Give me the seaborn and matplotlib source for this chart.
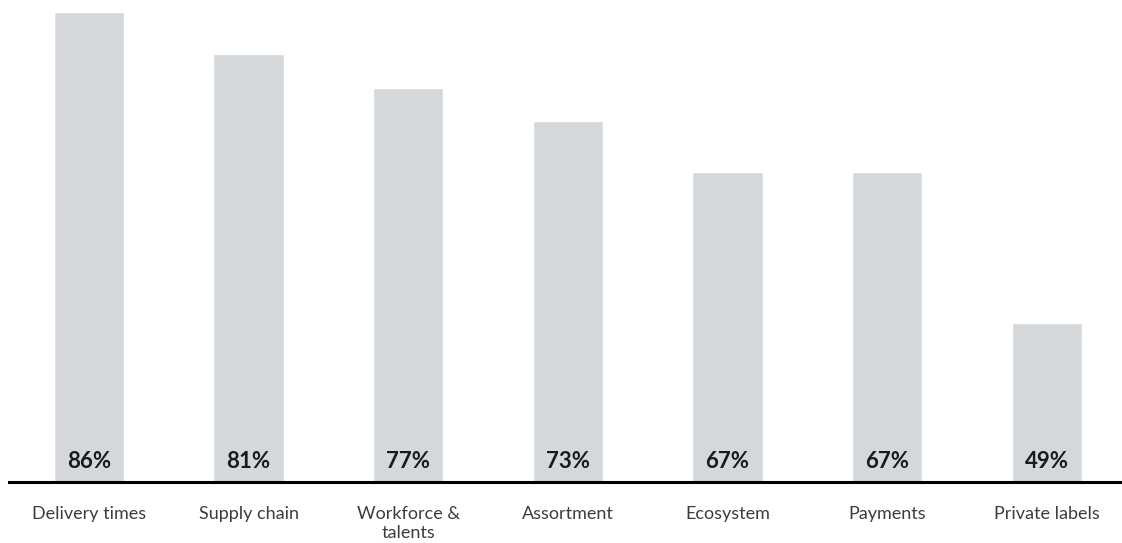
import matplotlib
matplotlib.use("Agg")
import matplotlib.pyplot as plt
import seaborn as sns
import pandas as pd

categories = ["Delivery times", "Supply chain", "Workforce &\ntalents", "Assortment",
              "Ecosystem", "Payments", "Private labels"]
values = [86, 81, 77, 73, 67, 67, 49]
labels = ["86%", "81%", "77%", "73%", "67%", "67%", "49%"]

sns.set_theme(style="white")
plt.rcParams["font.family"] = ["Lato", "DejaVu Sans"]

df = pd.DataFrame({"category": categories, "value": values})

fig = plt.figure(figsize=(11.22, 5.43), dpi=100)
ax = fig.add_axes([9 / 1122, 1 - 482 / 543, 1 - 9 / 1122, 482 / 543])

sns.barplot(data=df, x="category", y="value", color="#d5d8db", width=0.44,
            saturation=1, ax=ax)

ax.set_ylim(30, 87.45)
ax.set_xlim(-0.5, 6.47)

for i, lab in enumerate(labels):
    ax.annotate(lab, xy=(i, 30), xytext=(0, 14), textcoords="offset pixels",
                ha="center", va="baseline", fontsize=16, fontweight="bold",
                color="#1a1a1a")

for s in ["top", "right", "left"]:
    ax.spines[s].set_visible(False)
ax.spines["bottom"].set_color("#000000")
ax.spines["bottom"].set_linewidth(2.2)
ax.set_yticks([])
ax.set_xlabel("")
ax.set_ylabel("")
ax.tick_params(axis="x", length=0, pad=17, labelsize=13, labelcolor="#3a3d40")
for t in ax.get_xticklabels():
    t.set_linespacing(1.25)

fig.savefig("out.png", dpi=100)
